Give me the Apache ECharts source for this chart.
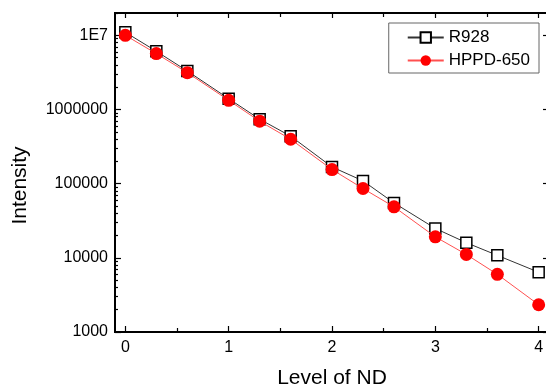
<!DOCTYPE html>
<html>
<head>
<meta charset="utf-8">
<script src="https://cdn.jsdelivr.net/npm/echarts@6/dist/echarts.min.js"></script>
<style>
    html, body { margin: 0; padding: 0; background: #fff; }
    #chart { width: 546px; height: 385px; }
</style>
</head>
<body>
<div id="chart"></div>
<script>
// ND level vs intensity
const levels = [0, 0.3, 0.6, 1.0, 1.3, 1.6, 2.0, 2.3, 2.6, 3.0, 3.3, 3.6, 4.0];
const r928 = [11000000, 6100000, 3300000, 1400000, 740000, 437000, 168000, 109000, 55000, 24900, 16000, 10800, 6400];
const hppd650 = [10000000, 5670000, 3140000, 1330000, 695000, 397000, 155000, 86000, 48700, 19200, 11100, 6000, 2330];

const xMajor = [0, 1, 2, 3, 4];
const xMinor = [0.5, 1.5, 2.5, 3.5];
const yMajor = [1000, 10000, 100000, 1000000, 10000000];
const yMinor = [];
[1000, 10000, 100000, 1000000, 10000000].forEach(d => {
    for (let k = 2; k <= 9; k++) {
        if (d * k <= 20000000) yMinor.push(d * k);
    }
});

const font = 'Liberation Sans, Arial, sans-serif';

function xAx(pos, ticks, len, labels) {
    return {
        type: 'value', position: pos, min: -0.1, max: 4.1,
        axisLine: { show: true, onZero: false, lineStyle: { color: '#000', width: 2 } },
        splitLine: { show: false },
        axisTick: { show: true, inside: true, length: len, customValues: ticks, lineStyle: { color: '#000', width: 1.2 } },
        axisLabel: labels ? { show: true, customValues: ticks, color: '#000', fontSize: 16, fontFamily: font, margin: 8 } : { show: false }
    };
}
function yAx(pos, ticks, len, labels) {
    return {
        type: 'log', logBase: 10, position: pos, min: 1000, max: 20000000,
        axisLine: { show: true, onZero: false, lineStyle: { color: '#000', width: 2 } },
        splitLine: { show: false },
        axisTick: { show: true, inside: true, length: len, customValues: ticks, lineStyle: { color: '#000', width: 1.2 } },
        axisLabel: labels ? {
            show: true, customValues: ticks, color: '#000', fontSize: 16, fontFamily: font, margin: 7,
            formatter: v => (v >= 9999999 ? '1E7' : String(Math.round(v)))
        } : { show: false }
    };
}

const xBottom = xAx('bottom', xMajor, 6, true);
xBottom.name = 'Level of ND';
xBottom.nameLocation = 'middle';
xBottom.nameGap = 36;
xBottom.nameTextStyle = { color: '#000', fontSize: 21, fontFamily: font };

const yLeft = yAx('left', yMajor, 6, true);
yLeft.name = 'Intensity';
yLeft.nameLocation = 'middle';
yLeft.nameGap = 84;
yLeft.nameTextStyle = { color: '#000', fontSize: 21, fontFamily: font, padding: [0, 26, 0, 0] };

const myChart = echarts.init(document.getElementById('chart'));
myChart.setOption({
    animation: false,
    grid: { left: 115, top: 13, right: -3, bottom: 53, outerBoundsMode: 'none' },
    legend: {
        orient: 'vertical',
        right: 7, top: 23,
        padding: [6, 9, 4, 18],
        itemWidth: 36, itemHeight: 13, itemGap: 6,
        borderColor: '#666', borderWidth: 1,
        backgroundColor: '#fff',
        textStyle: { color: '#000', fontSize: 17, fontFamily: font },
        data: ['R928', 'HPPD-650']
    },
    xAxis: [
        xBottom,
        xAx('top', xMajor, 5, false),
        xAx('bottom', xMinor, 4, false),
        xAx('top', xMinor, 4, false)
    ],
    yAxis: [
        yLeft,
        yAx('right', yMajor, 6, false),
        yAx('left', yMinor, 3, false),
        yAx('right', yMinor, 3, false)
    ],
    series: [
        {
            name: 'R928',
            type: 'line',
            data: levels.map((x, i) => [x, r928[i]]),
            symbol: 'rect',
            symbolSize: 11,
            itemStyle: { color: '#fff', borderColor: '#000', borderWidth: 1.5 },
            lineStyle: { color: '#333', width: 1 },
            z: 2
        },
        {
            name: 'HPPD-650',
            type: 'line',
            data: levels.map((x, i) => [x, hppd650[i]]),
            symbol: 'circle',
            symbolSize: 13,
            itemStyle: { color: '#ff0000', borderWidth: 0 },
            lineStyle: { color: '#ff5050', width: 1 },
            z: 3
        }
    ]
});
</script>
</body>
</html>
